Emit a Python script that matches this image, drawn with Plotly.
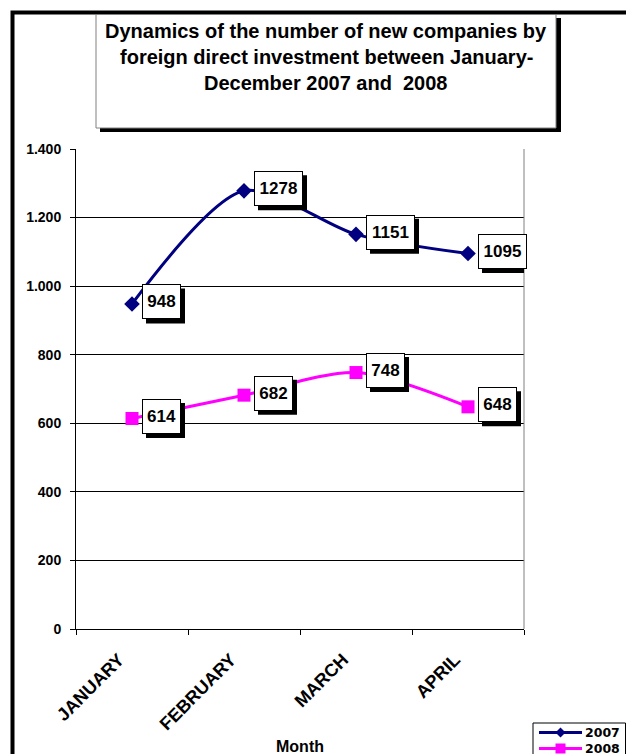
import plotly.graph_objects as go

# ---- data ----
months = ["JANUARY", "FEBRUARY", "MARCH", "APRIL"]
values_2007 = [948, 1278, 1151, 1095]
values_2008 = [614, 682, 748, 648]
series_names = ["2007", "2008"]
y_tick_vals = [0, 200, 400, 600, 800, 1000, 1200, 1400]
y_tick_text = ["0", "200", "400", "600", "800", "1.000", "1.200", "1.400"]
title_lines = [
    "Dynamics of the number of new companies by",
    "foreign direct investment between January-",
    "December 2007 and  2008",
]
x_title = "Month"

# ---- layout geometry ----
# The page body has an 8px margin, so the figure is drawn 8px in from the
# window's top-left corner; geometry below is given in window pixels.
OFF = 8
W, H = 634 - OFF, 754 - OFF
L = 76 - OFF
T = 149 - OFF
R = W - (524 - OFF)
B = H - (629 - OFF)
PW, PH = W - L - R, H - T - B

def px(x):
    return (x - OFF - L) / PW

def py(y):
    return (H - B - (y - OFF)) / PH

FONT = "Liberation Sans, Arial, sans-serif"
LEG_FONT = "DejaVu Sans, Liberation Sans, sans-serif"
NAVY = "#000080"
MAGENTA = "#FF00FF"
COLORS = [NAVY, MAGENTA]

fig = go.Figure()
fig.add_trace(go.Scatter(
    x=months, y=values_2007, name=series_names[0], mode="lines+markers",
    line=dict(color=NAVY, width=3, shape="spline", smoothing=0.8),
    marker=dict(symbol="diamond", size=12, color=NAVY),
    cliponaxis=False, showlegend=False,
))
fig.add_trace(go.Scatter(
    x=months, y=values_2008, name=series_names[1], mode="lines+markers",
    line=dict(color=MAGENTA, width=3, shape="spline", smoothing=0.8),
    marker=dict(symbol="square", size=13, color=MAGENTA),
    cliponaxis=False, showlegend=False,
))

annotations = []
shapes = [
    # outer chart frame
    dict(type="rect", xref="paper", yref="paper", x0=px(12.5), y0=py(12.5),
         x1=px(720), y1=py(820), line=dict(color="black", width=4), layer="below"),
    # title box shadow + box
    dict(type="rect", xref="paper", yref="paper", x0=px(100), y0=py(18),
         x1=px(561), y1=py(132), fillcolor="black", line=dict(width=0), layer="below"),
    dict(type="rect", xref="paper", yref="paper", x0=px(96), y0=py(14.5),
         x1=px(556), y1=py(128), fillcolor="white",
         line=dict(color="#808080", width=1), layer="below"),
    # right border of plot area
    dict(type="line", xref="paper", yref="paper", x0=1, x1=1, y0=0, y1=1,
         line=dict(color="#808080", width=1)),
]

# data labels: white boxes with a black drop shadow
for vals in (values_2007, values_2008):
    for i, (m, v) in enumerate(zip(months, vals)):
        txt = "%d" % v
        tw = 10 * len(txt) - 1          # text area width
        bw = tw + 2 * 4 + 2             # full box width
        shapes.append(dict(
            type="rect", xref="x", yref="y", xsizemode="pixel", ysizemode="pixel",
            xanchor=i, yanchor=v, x0=14, x1=14 + bw, y0=-19.5, y1=15.5,
            fillcolor="black", line=dict(width=0), layer="above"))
        annotations.append(dict(
            x=m, y=v, xref="x", yref="y", text="<b>%s</b>" % txt,
            showarrow=False, xanchor="left", yanchor="middle",
            font=dict(family=FONT, size=17, color="black"),
            bgcolor="white", bordercolor="black", borderwidth=1, borderpad=4,
            width=tw, height=25, xshift=10, yshift=2))

# title text, one annotation per line
for line, yc in zip(title_lines, [31.5, 57.0, 82.5]):
    annotations.append(dict(
        x=px(326), y=py(yc), xref="paper", yref="paper", text="<b>%s</b>" % line,
        showarrow=False, xanchor="center", yanchor="middle",
        font=dict(family=FONT, size=20, color="black")))

# x-axis title
annotations.append(dict(
    x=px(300), y=py(746), xref="paper", yref="paper", text="<b>%s</b>" % x_title,
    showarrow=False, xanchor="center", yanchor="middle",
    font=dict(family=FONT, size=16, color="black")))

# legend (drawn by hand so that it sits exactly where the reference has it)
shapes.append(dict(type="rect", xref="paper", yref="paper", x0=px(533), y0=py(723),
                   x1=px(625.5), y1=py(800), fillcolor="white",
                   line=dict(color="black", width=1)))
for k, (name, col, yrow) in enumerate(zip(series_names, COLORS, [732.5, 748.5])):
    shapes.append(dict(type="line", xref="paper", yref="paper", x0=px(539), x1=px(582),
                       y0=py(yrow), y1=py(yrow), line=dict(color=col, width=3)))
    cx, r = 560.5, 5
    if k == 0:
        path = "M %f,%f L %f,%f L %f,%f L %f,%f Z" % (
            px(cx - r), py(yrow), px(cx), py(yrow - r),
            px(cx + r), py(yrow), px(cx), py(yrow + r))
    else:
        path = "M %f,%f L %f,%f L %f,%f L %f,%f Z" % (
            px(cx - r), py(yrow - r), px(cx + r), py(yrow - r),
            px(cx + r), py(yrow + r), px(cx - r), py(yrow + r))
    shapes.append(dict(type="path", xref="paper", yref="paper", path=path,
                       fillcolor=col, line=dict(color=col, width=0)))
    annotations.append(dict(
        x=px(582.5), y=py(yrow), xref="paper", yref="paper", text="<b>%s</b>" % name,
        showarrow=False, xanchor="left", yanchor="middle",
        font=dict(family=LEG_FONT, size=12.5, color="black")))

fig.update_layout(
    width=W, height=H,
    margin=dict(l=L, r=R, t=T, b=B, autoexpand=False),
    paper_bgcolor="white", plot_bgcolor="white",
    font=dict(family=FONT, color="black"),
    showlegend=False,
    annotations=annotations,
    shapes=shapes,
    xaxis=dict(
        type="category", range=[-0.5, 3.5], tickson="boundaries",
        ticks="outside", ticklen=5, tickcolor="black", tickwidth=1,
        showline=True, linecolor="black", linewidth=1,
        showgrid=False, tickangle=-45, zeroline=False,
        ticklabelstandoff=12, ticklabelshift=-13,
        tickfont=dict(family=FONT, size=18, color="black", weight="bold"),
    ),
    yaxis=dict(
        range=[0, 1400], tickvals=y_tick_vals, ticktext=y_tick_text,
        ticks="outside", ticklen=5, tickcolor="black", tickwidth=1,
        showline=True, linecolor="black", linewidth=1,
        showgrid=True, gridcolor="black", gridwidth=1, zeroline=False,
        ticklabelstandoff=6,
        tickfont=dict(family=FONT, size=14, color="black", weight="bold"),
    ),
)

fig.write_html("out.html")
